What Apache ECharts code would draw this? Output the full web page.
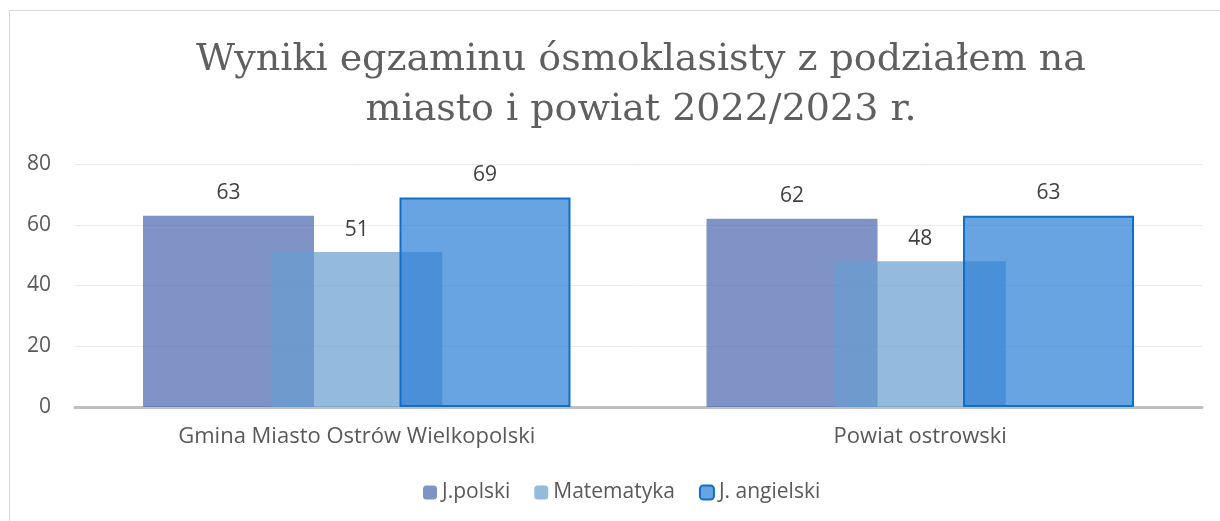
<!DOCTYPE html>
<html>
<head>
<meta charset="utf-8">
<script src="https://cdn.jsdelivr.net/npm/echarts@6/dist/echarts.min.js"></script>
<style>
  html, body { margin: 0; padding: 0; background: #fff; }
  #chart { width: 1220px; height: 521px; }
</style>
</head>
<body>
<div id="chart"></div>
<script>
// dane z wykresu
var categories = ["Gmina Miasto Ostrów Wielkopolski", "Powiat ostrowski"];
var jPolski = [63, 62];
var matematyka = [51, 48];
var jAngielski = [69, 63];
var yTicks = [0, 20, 40, 60, 80];

var chart = echarts.init(document.getElementById("chart"));

var labelStyle = {
  show: true,
  position: "top",
  distance: 12,
  color: "#404040",
  fontSize: 21,
  fontFamily: "Open Sans"
};

chart.setOption({
  animation: false,
  title: {
    text: "Wyniki egzaminu ósmoklasisty z podziałem na\nmiasto i powiat 2022/2023 r.",
    left: 636,
    top: 30,
    textAlign: "center",
    textStyle: {
      fontFamily: "DejaVu Serif",
      fontWeight: "normal",
      fontSize: 38,
      lineHeight: 50,
      color: "#5f5f5f"
    }
  },
  graphic: [
    {
      type: "polyline",
      shape: { points: [[9.5, 521], [9.5, 10.5], [1220, 10.5]] },
      style: { stroke: "#d9d9d9", fill: null, lineWidth: 1 }
    }
  ],
  legend: {
    top: 477,
    left: 418,
    itemWidth: 14,
    itemHeight: 14,
    itemGap: 24,
    textStyle: { color: "#595959", fontSize: 21, fontFamily: "Open Sans" },
    data: ["J.polski", "Matematyka", "J. angielski"]
  },
  grid: { left: 75, right: 18, top: 164, bottom: 114 },
  xAxis: {
    type: "category",
    data: categories,
    axisTick: { show: false },
    axisLine: { lineStyle: { color: "#bfbfbf", width: 3 } },
    axisLabel: { color: "#595959", fontSize: 22, fontFamily: "Open Sans", margin: 19 }
  },
  yAxis: {
    type: "value",
    min: yTicks[0],
    max: yTicks[yTicks.length - 1],
    interval: 20,
    axisLine: { show: false },
    axisTick: { show: false },
    splitLine: { lineStyle: { color: "#ebebeb", width: 1 } },
    axisLabel: { color: "#595959", fontSize: 21, fontFamily: "Open Sans", margin: 24 }
  },
  series: [
    {
      name: "J.polski",
      type: "bar",
      data: jPolski,
      barWidth: 171,
      barGap: "-25%",
      itemStyle: { color: "rgba(74,101,174,0.7)" },
      label: labelStyle
    },
    {
      name: "Matematyka",
      type: "bar",
      data: matematyka,
      barWidth: 171,
      barGap: "-25%",
      itemStyle: { color: "rgba(102,156,208,0.7)" },
      label: labelStyle
    },
    {
      name: "J. angielski",
      type: "bar",
      data: jAngielski,
      barWidth: 171,
      barGap: "-25%",
      itemStyle: { color: "rgba(42,127,214,0.71)", borderColor: "#1070c8", borderWidth: 2 },
      label: labelStyle
    }
  ]
});
</script>
</body>
</html>
